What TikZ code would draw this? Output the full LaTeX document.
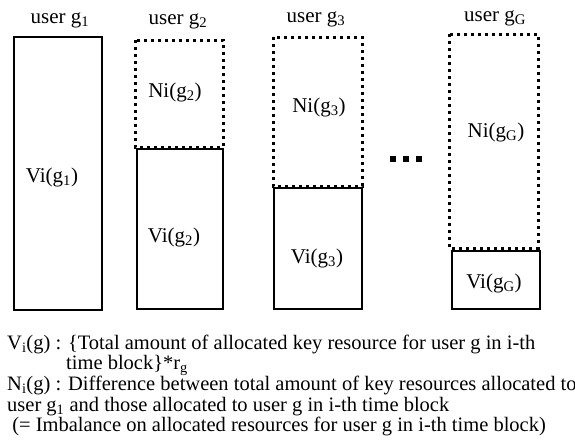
\documentclass[tikz,border=0pt]{standalone}
\usepackage{fontspec}
\setmainfont{Liberation Serif}
\tikzstyle{used}=[draw=black,line width=2pt]
\tikzstyle{gap}=[draw=black,line width=3pt,dash pattern=on 3pt off 4pt]
\tikzstyle{lbl}=[inner sep=0pt,anchor=base,font=\fontsize{21}{21}\selectfont]
\tikzstyle{note}=[inner sep=0pt,anchor=base west,font=\fontsize{20.5}{20.5}\selectfont]

\begin{document}
\begin{tikzpicture}[x=1pt,y=-1pt]
    \useasboundingbox (0,0) rectangle (575,445);
    % user g_1
    \node [style=lbl] (u1) at (60,23) {user g\textsubscript{1}};
    \draw [style=used] (14,37) rectangle (102,310);
    \node [style=lbl] (v1) at (52,182) {Vi(g\textsubscript{1})};
    % user g_2
    \node [style=lbl] (u2) at (178,24) {user g\textsubscript{2}};
    \draw [style=used] (137,149) rectangle (223,309);
    \draw [style=gap] (135,40) rectangle (223,147);
    \node [style=lbl] (n2) at (175,97) {Ni(g\textsubscript{2})};
    \node [style=lbl] (v2) at (174,242) {Vi(g\textsubscript{2})};
    % user g_3
    \node [style=lbl] (u3) at (316,22) {user g\textsubscript{3}};
    \draw [style=used] (274,188) rectangle (362,309);
    \draw [style=gap] (273,37) rectangle (362,186);
    \node [style=lbl] (n3) at (319,112) {Ni(g\textsubscript{3})};
    \node [style=lbl] (v3) at (317,263) {Vi(g\textsubscript{3})};
    % dots
    \foreach \x in {390,403,416}
        \fill (\x,156) rectangle ++(6,6);
    % user g_G
    \node [style=lbl] (uG) at (495,21) {user g\textsubscript{G}};
    \draw [style=used] (452,251) rectangle (540,309);
    \draw [style=gap] (449,34) rectangle (538,248);
    \node [style=lbl] (nG) at (496,137) {Ni(g\textsubscript{G})};
    \node [style=lbl] (vG) at (494,288) {Vi(g\textsubscript{G})};
    % legend
    \node [style=note] (l1) at (7,349) {V\textsubscript{i}(g) : \{Total amount of allocated key resource for user g in i-th};
    \node [style=note] (l2) at (66,369) {time block\}*r\textsubscript{g}};
    \node [style=note] (l3) at (7,390) {N\textsubscript{i}(g) : Difference between total amount of key resources allocated to};
    \node [style=note] (l4) at (7,411) {user g\textsubscript{1} and those allocated to user g in i-th time block};
    \node [style=note] (l5) at (7,431) {\ (= Imbalance on allocated resources for user g in i-th time block)};
\end{tikzpicture}
\end{document}
